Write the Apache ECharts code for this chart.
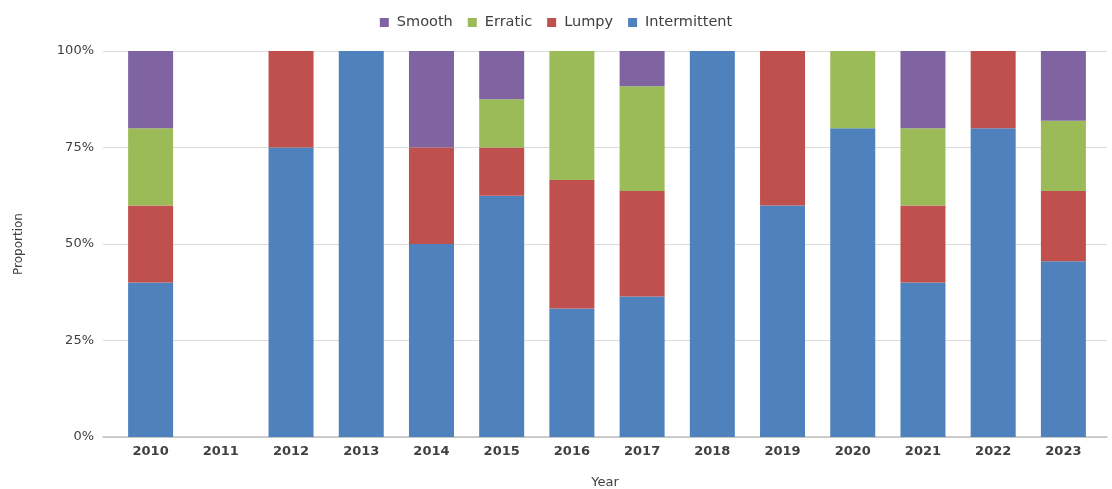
<!DOCTYPE html>
<html>
<head>
<meta charset="utf-8">
<script src="https://cdn.jsdelivr.net/npm/echarts@6/dist/echarts.min.js"></script>
<style>
  html, body { margin: 0; padding: 0; background: #fff; }
  #chart { width: 1112px; height: 489px; }
</style>
</head>
<body>
<div id="chart"></div>
<script>
// Demand pattern shares per year (percent of items)
const years = ['2010', '2011', '2012', '2013', '2014', '2015', '2016', '2017', '2018', '2019', '2020', '2021', '2022', '2023'];
const intermittent = [40, 0, 75, 100, 50, 62.5, 33.3, 36.4, 100, 60, 80, 40, 80, 45.5];
const lumpy        = [20, 0, 25, 0, 25, 12.5, 33.3, 27.3, 0, 40, 0, 20, 20, 18.2];
const erratic      = [20, 0, 0, 0, 0, 12.5, 33.4, 27.2, 0, 0, 20, 20, 0, 18.2];
const smooth       = [20, 0, 0, 0, 25, 12.5, 0, 9.1, 0, 0, 0, 20, 0, 18.1];
const yTicks = [0, 25, 50, 75, 100];

const textColor = '#404040';
const font = 'DejaVu Sans';
const plotTop = 51, plotHeight = 386;

const chart = echarts.init(document.getElementById('chart'), null, { renderer: 'canvas' });

function bar(name, data, color) {
  return {
    name, type: 'bar', stack: 'total', data,
    xAxisIndex: 1, yAxisIndex: 1,
    barWidth: 45,
    itemStyle: { color },
    emphasis: { disabled: true }
  };
}

chart.setOption({
  animation: false,
  backgroundColor: '#ffffff',
  legend: {
    top: 10, left: 'center',
    itemWidth: 9, itemHeight: 9, itemGap: 15,
    icon: 'rect',
    data: ['Smooth', 'Erratic', 'Lumpy', 'Intermittent'],
    textStyle: { color: textColor, fontFamily: font, fontSize: 14.5, padding: [0, 0, 0, 3] }
  },
  grid: [
    // frame: gridlines and base line run slightly past the bars
    { left: 103, width: 1004, top: plotTop, height: plotHeight, outerBoundsMode: 'none', containLabel: false },
    // bars
    { left: 115.5, width: 983, top: plotTop, height: plotHeight, outerBoundsMode: 'none', containLabel: false }
  ],
  xAxis: [
    {
      gridIndex: 0, type: 'value', min: 0, max: 1,
      axisLine: { show: true, lineStyle: { color: '#bfbfbf', width: 1.5 } },
      axisTick: { show: false }, axisLabel: { show: false }, splitLine: { show: false },
      name: 'Year', nameLocation: 'middle', nameGap: 39,
      nameTextStyle: { color: textColor, fontFamily: font, fontSize: 13 }
    },
    {
      gridIndex: 1, type: 'category', data: years,
      axisLine: { show: false }, axisTick: { show: false },
      axisLabel: { color: textColor, fontFamily: font, fontSize: 13, fontWeight: 'bold', margin: 8 }
    }
  ],
  yAxis: [
    {
      gridIndex: 0, type: 'value', min: 0, max: 100, interval: 25,
      axisLine: { show: false }, axisTick: { show: false },
      axisLabel: {
        color: textColor, fontFamily: font, fontSize: 13, margin: 9,
        formatter: v => yTicks.includes(v) ? v + '%' : ''
      },
      splitLine: { lineStyle: { color: '#dcdcdc', width: 1 } },
      name: 'Proportion', nameLocation: 'middle', nameGap: 78, nameRotate: 90,
      nameTextStyle: { color: textColor, fontFamily: font, fontSize: 12 }
    },
    {
      gridIndex: 1, type: 'value', min: 0, max: 100, show: false,
      splitLine: { show: false }
    }
  ],
  series: [
    bar('Intermittent', intermittent, '#4f81bd'),
    bar('Lumpy', lumpy, '#c0504d'),
    bar('Erratic', erratic, '#9bbb59'),
    bar('Smooth', smooth, '#8064a2')
  ]
});
</script>
</body>
</html>
